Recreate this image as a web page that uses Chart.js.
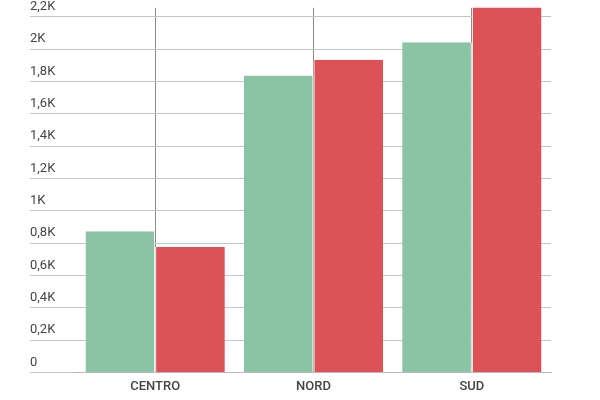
<!DOCTYPE html>
<html>
<head>
<script src="https://cdn.jsdelivr.net/npm/chart.js@4"></script>
<style>
  body { margin: 0; background: #fff; }
  #wrap { width: 600px; height: 400px; }
</style>
</head>
<body>
<div id="wrap"><canvas id="chart"></canvas></div>
<script>
// Data
const categories = ["CENTRO", "NORD", "SUD"];
const seriesGreen = [873, 1836, 2042];
const seriesRed = [776, 1933, 2400];
const yTicks = [0, 200, 400, 600, 800, 1000, 1200, 1400, 1600, 1800, 2000, 2200];

function kLabel(v) {
    if (v === 0) return "0";
    return String(v / 1000).replace(".", ",") + "K";
}

// ::::: Bar chart :::::
var ctx = document.getElementById("chart");
var chart = new Chart(ctx, {
    type: "bar",
    data: {
        labels: categories,
        datasets: [{
            data: seriesGreen,
            backgroundColor: "#8bc3a5",
            borderColor: "#ffffff",
            borderWidth: { left: 0, right: 1, top: 0, bottom: 0 }
        }, {
            data: seriesRed,
            backgroundColor: "#dd5257",
            borderColor: "#ffffff",
            borderWidth: { left: 1, right: 0, top: 0, bottom: 0 }
        }]
    },
    options: {
        responsive: true,
        maintainAspectRatio: false,
        animation: false,
        layout: { padding: { left: 30, right: 49, top: -7, bottom: -2 } },
        datasets: { bar: { barPercentage: 1, categoryPercentage: 0.88 } },
        scales: {
            x: {
                offset: true,
                grid: { offset: false, color: "#888", drawTicks: false },
                border: { color: "#bbb" },
                ticks: { color: "#444", font: { family: "Roboto", size: 13, weight: "500" }, padding: 7 }
            },
            y: {
                min: 0,
                max: 2255,
                afterFit: (axis) => { axis.width = 46; },
                afterBuildTicks: (axis) => { axis.ticks = yTicks.map(v => ({ value: v })); },
                grid: { color: "#c4c4c4", tickLength: 46, tickColor: "#c4c4c4" },
                border: { display: false },
                ticks: {
                    autoSkip: false,
                    crossAlign: "far",
                    padding: 0,
                    labelOffset: -10,
                    color: "#444",
                    font: { family: "Roboto", size: 13 },
                    callback: (v) => kLabel(v)
                }
            }
        },
        plugins: {
            legend: { display: false },
            tooltip: { enabled: false }
        }
    }
});
</script>
</body>
</html>
